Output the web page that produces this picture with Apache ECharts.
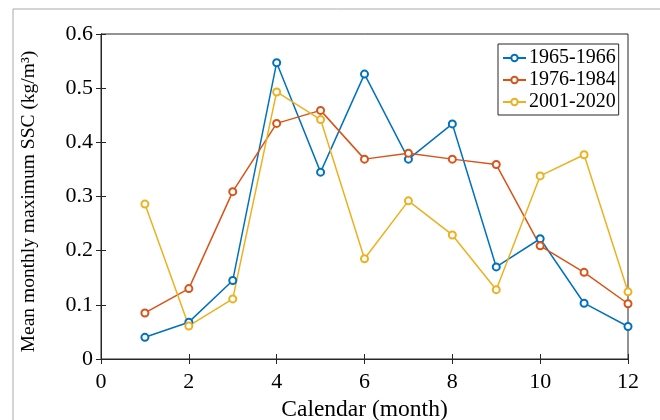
<!DOCTYPE html>
<html>
<head>
<meta charset="utf-8">
<script src="https://cdn.jsdelivr.net/npm/echarts@6/dist/echarts.min.js"></script>
<style>html,body{margin:0;padding:0;background:#fff;}#c{width:660px;height:420px;}</style>
</head>
<body>
<div id="c"></div>
<script>
var months = [1,2,3,4,5,6,7,8,9,10,11,12];
var seriesNames = ['1965-1966','1976-1984','2001-2020'];
var s1965 = [0.040,0.068,0.145,0.547,0.345,0.526,0.369,0.434,0.170,0.222,0.103,0.060];
var s1976 = [0.085,0.130,0.309,0.435,0.459,0.369,0.380,0.369,0.359,0.209,0.160,0.102];
var s2001 = [0.286,0.061,0.111,0.493,0.442,0.185,0.292,0.229,0.128,0.338,0.377,0.124];
var colors = ['#0072BD','#D95319','#EDB120'];

function pairs(vals){ return months.map(function(m,i){ return [m, vals[i]]; }); }
var FONT = 'Liberation Serif';
var chart = echarts.init(document.getElementById('c'), null, {renderer:'canvas'});
function mk(name, vals, col){
  return {
    name: name, type:'line', data: pairs(vals),
    symbol:'emptyCircle', symbolSize:7,
    lineStyle:{color:col, width:1.5},
    itemStyle:{color:col, borderColor:col, borderWidth:1.3},
    emphasis:{disabled:true}, animation:false
  };
}
var axisLineStyle = {color:'#262626', width:1};
chart.setOption({
  animation:false,
  color: colors,
  grid:{left:101, right:32, top:34, bottom:61, containLabel:false, outerBoundsMode:'none',
        show:true, borderColor:'#262626', borderWidth:1, backgroundColor:'transparent'},
  graphic:[
    {type:'line', shape:{x1:13,y1:9,x2:660,y2:9}, style:{stroke:'#aaa',lineWidth:1}},
    {type:'line', shape:{x1:13,y1:9,x2:13,y2:420}, style:{stroke:'#aaa',lineWidth:1}}
  ],
  legend:{
    data: seriesNames,
    orient:'vertical',
    left:498, top:44,
    width:120,
    itemWidth:23, itemHeight:8, itemGap:2,
    padding:[4,3,3,4],
    borderColor:'#262626', borderWidth:1, backgroundColor:'#fff',
    textStyle:{fontFamily:FONT, fontSize:20, color:'#000', padding:[0,0,0,-2]},
    selectedMode:false
  },
  xAxis:[{
    type:'value', min:0, max:12, interval:2,
    name:'Calendar (month)', nameLocation:'middle', nameGap:38,
    nameTextStyle:{fontFamily:FONT, fontSize:23.5, color:'#000'},
    axisLine:{show:true, lineStyle:axisLineStyle},
    axisTick:{show:true, inside:true, length:5, lineStyle:axisLineStyle},
    axisLabel:{fontFamily:FONT, fontSize:22, color:'#000', margin:12},
    splitLine:{show:false}
  },{
    type:'value', min:0, max:12, interval:2, position:'top',
    axisLine:{show:true, lineStyle:axisLineStyle},
    axisTick:{show:true, inside:true, length:5, lineStyle:axisLineStyle},
    axisLabel:{show:false}, splitLine:{show:false}
  }],
  yAxis:[{
    type:'value', min:0, max:0.6, interval:0.1,
    name:'Mean monthly maximum SSC (kg/m\u00B3)', nameLocation:'middle', nameGap:62,
    nameTextStyle:{fontFamily:FONT, fontSize:19.5, color:'#000', padding:[0,10,0,0]},
    axisLine:{show:true, lineStyle:axisLineStyle},
    axisTick:{show:true, inside:true, length:5, lineStyle:axisLineStyle},
    axisLabel:{fontFamily:FONT, fontSize:22, color:'#000', margin:8,
      formatter:function(v){ return v===0 ? '0' : v.toFixed(1); }},
    splitLine:{show:false}
  },{
    type:'value', min:0, max:0.6, interval:0.1, position:'right',
    axisLine:{show:true, lineStyle:axisLineStyle},
    axisTick:{show:true, inside:true, length:5, lineStyle:axisLineStyle},
    axisLabel:{show:false}, splitLine:{show:false}
  }],
  series:[
    mk(seriesNames[0], s1965, colors[0]),
    mk(seriesNames[1], s1976, colors[1]),
    mk(seriesNames[2], s2001, colors[2]),
    {type:'line', xAxisIndex:1, yAxisIndex:1, data:[], silent:true, animation:false}
  ]
});
</script>
</body>
</html>
